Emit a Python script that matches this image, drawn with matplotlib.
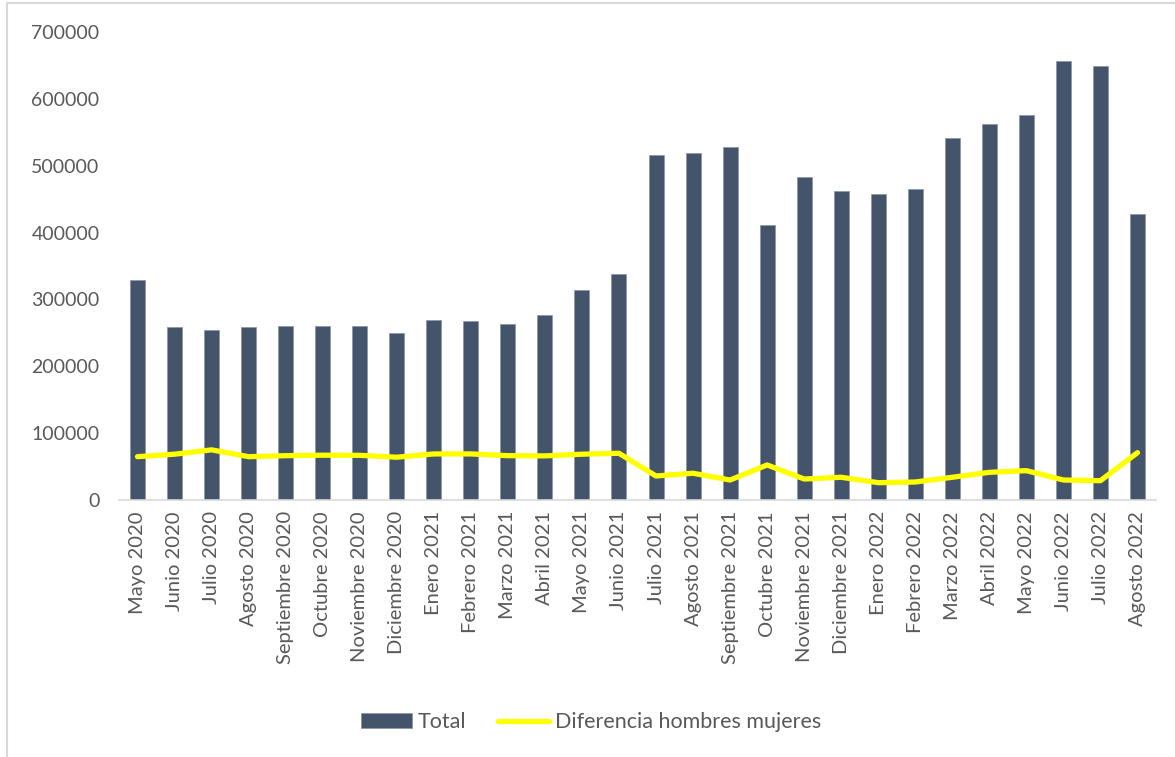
import numpy as np
import matplotlib.pyplot as plt
from matplotlib.lines import Line2D

plt.rcParams['font.family'] = ['Lato', 'DejaVu Sans']

meses = ['Mayo 2020', 'Junio 2020', 'Julio 2020', 'Agosto 2020', 'Septiembre 2020',
         'Octubre 2020', 'Noviembre 2020', 'Diciembre 2020', 'Enero 2021', 'Febrero 2021',
         'Marzo 2021', 'Abril 2021', 'Mayo 2021', 'Junio 2021', 'Julio 2021', 'Agosto 2021',
         'Septiembre 2021', 'Octubre 2021', 'Noviembre 2021', 'Diciembre 2021', 'Enero 2022',
         'Febrero 2022', 'Marzo 2022', 'Abril 2022', 'Mayo 2022', 'Junio 2022', 'Julio 2022',
         'Agosto 2022']

total = [329000, 259500, 254500, 259500, 260000, 260500, 260000, 250500, 268500,
         267500, 263500, 276500, 314000, 338500, 516000, 519000, 528000, 412000,
         483500, 462500, 458000, 465500, 541000, 562000, 575500, 657000, 648500,
         428000]

diferencia = [64800, 68500, 75000, 64800, 66300, 67000, 66800, 64000, 68900, 68900,
              66300, 66000, 68500, 69900, 35900, 40000, 29900, 52400, 31400, 34000,
              25900, 26900, 34000, 41400, 43900, 29900, 28900, 70800]

fig = plt.figure(figsize=(11.75, 7.57), dpi=100)
ax = fig.add_axes([119 / 1175, 1 - 500 / 757, (1156 - 119) / 1175, (500 - 32) / 757])

x = np.arange(len(meses))
bars = ax.bar(x, total, width=0.405, color='#44546A', edgecolor='#8c99ab', linewidth=0.6,
              label='Total', zorder=2)
line, = ax.plot(x, diferencia, color='#FFFF00', linewidth=3.8, solid_capstyle='round',
                solid_joinstyle='round', label='Diferencia hombres mujeres', zorder=3)

ax.set_xlim(-0.5, len(meses) - 0.5)
ax.set_ylim(0, 700000)
ax.set_yticks(np.arange(0, 700001, 100000))
ax.set_yticklabels([str(v) for v in range(0, 700001, 100000)])
ax.set_xticks(x)
ax.set_xticklabels(meses, rotation=90)

for side in ['top', 'right', 'left']:
    ax.spines[side].set_visible(False)
ax.spines['bottom'].set_color('#d9d9d9')
ax.spines['bottom'].set_linewidth(1.2)
ax.tick_params(axis='both', length=0, labelcolor='#595959')
ax.tick_params(axis='y', labelsize=14, pad=14)
ax.tick_params(axis='x', labelsize=14.5, pad=8)

leg = fig.legend(handles=[bars, line], loc='center', bbox_to_anchor=(0.503, 1 - 722 / 757),
                 ncol=2, frameon=False, fontsize=15.5, handlelength=2.37, handleheight=0.65,
                 columnspacing=1.5, handletextpad=0.25)
for t in leg.get_texts():
    t.set_color('#595959')

# chart area border (left and top)
fig.add_artist(Line2D([7 / 1175, 7 / 1175], [0, 1 - 3 / 757], color='#d9d9d9', linewidth=1.5))
fig.add_artist(Line2D([7 / 1175, 1], [1 - 3 / 757, 1 - 3 / 757], color='#d9d9d9', linewidth=1.5))

fig.savefig('out.png', dpi=100)
